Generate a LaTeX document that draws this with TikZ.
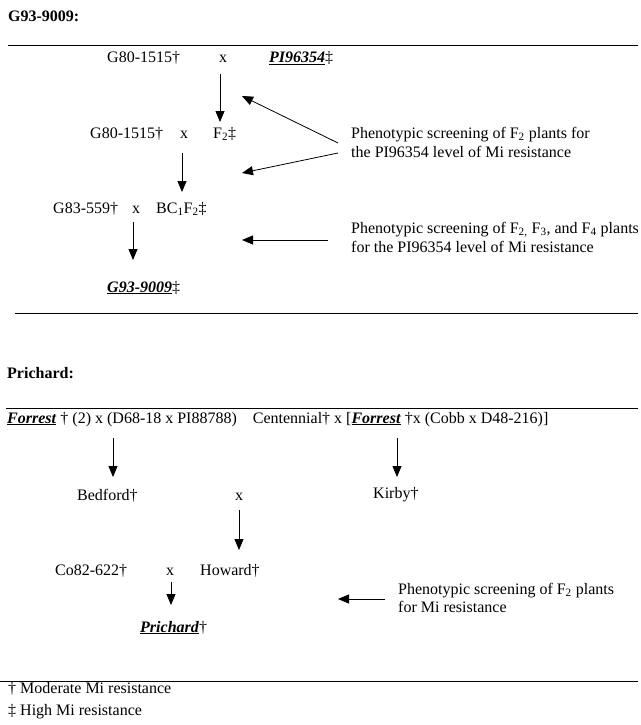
\documentclass[tikz,border=0pt]{standalone}
\usepackage{fontspec}
\setmainfont{Liberation Serif}
\usetikzlibrary{arrows.meta}
\begin{document}
\begin{tikzpicture}[x=1pt,y=-1pt,
  txt/.style={inner sep=0pt,anchor=base west,font=\fontsize{16}{19}\selectfont},
  ctxt/.style={inner sep=0pt,anchor=base,font=\fontsize{16}{19}\selectfont},
  para/.style={inner sep=0pt,anchor=north west,align=left,font=\fontsize{16}{19}\selectfont},
  arr/.style={line width=0.8pt,-{Triangle[length=11pt,width=9pt]}},
  rule/.style={line width=1pt}]
\useasboundingbox (0,0) rectangle (640,725);
% ---------- G93-9009 ----------
\node[txt,font=\fontsize{16}{19}\selectfont\bfseries] (t1) at (8,22) {G93-9009:};
\coordinate (r1a) at (8,46); \coordinate (r1b) at (638,46);
\draw[rule] (r1a) -- (r1b);
\node[txt] (g80a) at (107,63) {G80-1515†};
\node[ctxt] (x1) at (223,63) {x};
\node[txt] (pi) at (269,63) {\underline{\textbf{\textit{PI96354}}}‡};
\node[txt] (g80b) at (90,138) {G80-1515†};
\node[ctxt] (x2) at (184,138) {x};
\node[txt] (f2) at (213,138) {F\textsubscript{2}‡};
\node[txt] (g83) at (53,213) {G83-559†};
\node[ctxt] (x3) at (136,213) {x};
\node[txt] (bc) at (156,213) {BC\textsubscript{1}F\textsubscript{2}‡};
\node[txt] (g93) at (107,292) {\underline{\textbf{\textit{G93-9009}}}‡};
\node[txt] (s1a) at (351,138) {Phenotypic screening of F\textsubscript{2} plants for};
\node[txt] (s1b) at (351,157) {the PI96354 level of Mi resistance};
\node[txt] (s2a) at (351,233) {Phenotypic screening of F\textsubscript{2,} F\textsubscript{3}, and F\textsubscript{4} plants};
\node[txt] (s2b) at (351,252) {for the PI96354 level of Mi resistance};
% arrows
\coordinate (a1s) at (220,74);  \coordinate (a1e) at (220,122);
\coordinate (a2s) at (182,153); \coordinate (a2e) at (182,192);
\coordinate (a3s) at (133,222); \coordinate (a3e) at (133,260);
\coordinate (d1s) at (338,143); \coordinate (d1e) at (242,96);
\coordinate (d2s) at (338,153); \coordinate (d2e) at (242,173);
\coordinate (h1s) at (328,240); \coordinate (h1e) at (242,240);
\draw[arr] (a1s) -- (a1e);
\draw[arr] (a2s) -- (a2e);
\draw[arr] (a3s) -- (a3e);
\draw[arr] (d1s) -- (d1e);
\draw[arr] (d2s) -- (d2e);
\draw[arr] (h1s) -- (h1e);
\coordinate (r2a) at (15,313); \coordinate (r2b) at (638,313);
\draw[rule] (r2a) -- (r2b);
% ---------- Prichard ----------
\node[txt,font=\fontsize{16}{19}\selectfont\bfseries] (t2) at (7,378) {Prichard:};
\coordinate (r3a) at (6,408); \coordinate (r3b) at (638,408);
\draw[rule] (r3a) -- (r3b);
\node[txt] (row) at (7,423) {\underline{\textbf{\textit{Forrest}}} † (2) x (D68-18 x PI88788)\quad Centennial† x [\underline{\textbf{\textit{Forrest}}} †x (Cobb x D48-216)]};
\node[txt] (bed) at (77,500) {Bedford†};
\node[ctxt] (x4) at (239,500) {x};
\node[txt] (kir) at (373,498) {Kirby†};
\node[txt] (co) at (55,575) {Co82-622†};
\node[ctxt] (x5) at (170,575) {x};
\node[txt] (how) at (200,575) {Howard†};
\node[txt] (pri) at (140,632) {\underline{\textbf{\textit{Prichard}}}†};
\node[txt] (s3a) at (398,594) {Phenotypic screening of F\textsubscript{2} plants};
\node[txt] (s3b) at (398,612) {for Mi resistance};
\coordinate (b1s) at (113,438); \coordinate (b1e) at (113,477);
\coordinate (b2s) at (397,438); \coordinate (b2e) at (397,477);
\coordinate (b3s) at (239,510); \coordinate (b3e) at (239,550);
\coordinate (b4s) at (171,582); \coordinate (b4e) at (171,605);
\coordinate (h2s) at (385,599); \coordinate (h2e) at (338,599);
\draw[arr] (b1s) -- (b1e);
\draw[arr] (b2s) -- (b2e);
\draw[arr] (b3s) -- (b3e);
\draw[arr] (b4s) -- (b4e);
\draw[arr] (h2s) -- (h2e);
\coordinate (r4a) at (0,681); \coordinate (r4b) at (638,681);
\draw[rule] (r4a) -- (r4b);
\node[txt] (k1) at (8,693) {† Moderate Mi resistance};
\node[txt] (k2) at (8,715) {‡ High Mi resistance};
\end{tikzpicture}
\end{document}
